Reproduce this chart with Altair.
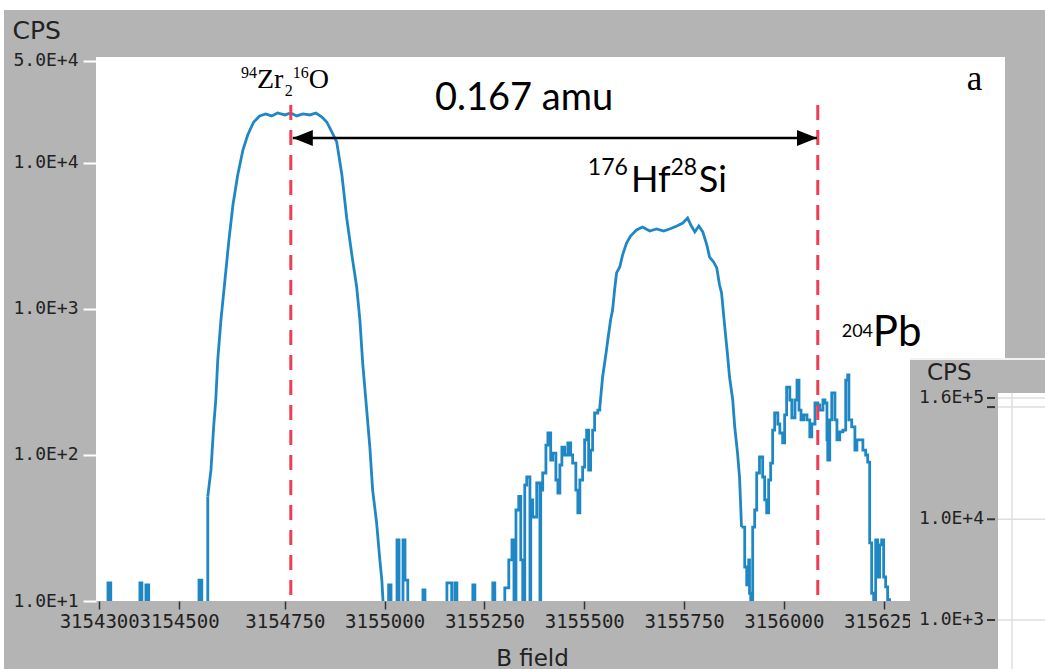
import altair as alt
import pandas as pd

# ---------------- data ----------------
b_field = [
    3154280, 3154307, 3154314, 3154387, 3154392, 3154402, 3154409, 3154535, 3154542,
    3154557, 3154565, 3154572, 3154577, 3154582, 3154590, 3154600, 3154610, 3154620,
    3154632, 3154645, 3154657, 3154672, 3154687, 3154702, 3154717, 3154732, 3154750,
    3154765, 3154780, 3154795, 3154813, 3154828, 3154843, 3154855, 3154868, 3154880,
    3154893, 3154905, 3154918, 3154930, 3154938, 3154945, 3154953, 3154963, 3154970,
    3154980, 3154988, 3154993, 3154998, 3155010, 3155016, 3155031, 3155036, 3155046,
    3155051, 3155058, 3155096, 3155101, 3155156, 3155168, 3155176, 3155181, 3155221,
    3155226, 3155271, 3155276, 3155301, 3155311, 3155319, 3155324, 3155329, 3155336,
    3155341, 3155346, 3155351, 3155356, 3155364, 3155366, 3155371, 3155381, 3155389,
    3155391, 3155396, 3155404, 3155409, 3155416, 3155421, 3155429, 3155434, 3155439,
    3155444, 3155451, 3155459, 3155466, 3155471, 3155479, 3155484, 3155489, 3155496,
    3155501, 3155506, 3155511, 3155516, 3155521, 3155526, 3155534, 3155539, 3155546,
    3155554, 3155559, 3155566, 3155571, 3155576, 3155581, 3155589, 3155596, 3155606,
    3155616, 3155631, 3155646, 3155664, 3155681, 3155699, 3155714, 3155732, 3155747,
    3155759, 3155767, 3155777, 3155787, 3155797, 3155807, 3155814, 3155824, 3155832,
    3155839, 3155844, 3155852, 3155859, 3155864, 3155872, 3155877, 3155884, 3155889,
    3155894, 3155902, 3155907, 3155912, 3155914, 3155917, 3155922, 3155927, 3155932,
    3155939, 3155947, 3155952, 3155957, 3155962, 3155967, 3155972, 3155977, 3155985,
    3155990, 3155997, 3156002, 3156007, 3156015, 3156020, 3156028, 3156033, 3156038,
    3156043, 3156050, 3156058, 3156065, 3156070, 3156078, 3156085, 3156090, 3156098,
    3156103, 3156108, 3156110, 3156115, 3156120, 3156128, 3156133, 3156140, 3156148,
    3156155, 3156160, 3156163, 3156170, 3156178, 3156183, 3156190, 3156198, 3156205,
    3156210, 3156215, 3156220, 3156225, 3156230, 3156235, 3156240, 3156245, 3156250,
    3156255, 3156260, 3156265,
]
cps = [
    8, 13.3, 8, 13.3, 8, 12.9, 8, 13.9, 8,
    52, 79, 160, 238, 448, 841, 1580, 2970, 5150,
    8280, 12270, 15550, 19100, 21000, 21680, 21000, 21990, 21330,
    21990, 21000, 21680, 21330, 21990, 20660, 19100, 16300, 13930,
    8280, 4200, 2340, 1415, 841, 427, 238, 113, 57.5,
    34.2, 19.1, 13.9, 8, 12.9, 8, 26.2, 8, 26.2,
    13.9, 8, 11.9, 8, 13.3, 8, 13.3, 8, 12.9,
    8, 13.3, 8, 12.3, 19.1, 26.2, 8, 42, 52,
    19.1, 8, 62.3, 70.7, 8, 49.2, 37.6, 64.3, 8,
    57.5, 75.3, 117, 141.5, 92.4, 103, 67.4, 54.9, 85.4,
    113, 100, 121, 100, 88.1, 57.5, 40.1, 67.4, 82.7,
    127, 148, 78.9, 108, 148, 194, 203, 213, 342,
    484, 613, 841, 984, 1349, 1765, 1940, 2340, 2830,
    3160, 3475, 3645, 3420, 3530, 3420, 3530, 3700, 3880,
    4200, 3760, 3370, 3700, 3370, 2745, 2270, 2100, 1910,
    1460, 1288, 753, 484, 342, 238, 155.5, 103, 70.7,
    32.1, 17.1, 12.9, 19.1, 11.3, 8, 32.1, 42, 75.3,
    96.9, 70.7, 49.2, 40.1, 67.4, 88.1, 148, 194, 163,
    141.5, 121, 188, 292, 238, 180, 238, 326, 203,
    174, 188, 174, 133, 163, 227, 220, 203, 238,
    227, 127, 92.4, 174, 266, 174, 127, 144, 148,
    326, 353, 174, 156, 108, 127, 127, 108, 100,
    89.5, 25, 11.3, 8, 26.2, 14.6, 24.2, 26.2, 14.6,
    12.5, 10.2, 8,
]
# the trace is noisy/stepped in some stretches and smooth on the big peak flanks
segment_bounds = [3154280, 3154557, 3154998, 3155539, 3155894, 3156265]
segment_modes = ["step", "smooth", "step", "smooth", "step"]

peak_lines_x = [3154765, 3156085]
peak_lines_top = 25000
arrow_x = [3154770, 3156083]
arrow_y = 14830

x_ticks = [3154285, 3154485, 3154750, 3155000, 3155250, 3155500, 3155750, 3156000, 3156250]
x_tick_labels = ["3154300", "3154500", "3154750", "3155000", "3155250",
                 "3155500", "3155750", "3156000", "3156250"]
y_ticks = [10, 100, 1000, 10000, 50000]
y_tick_labels = ["1.0E+1", "1.0E+2", "1.0E+3", "1.0E+4", "5.0E+4"]

# annotations: text, B position, CPS baseline, font group, font size
ann_text = ["94", "Zr", "2", "16", "O", "a",
            "0.167 amu", "176", "Hf", "28", "Si", "204", "Pb"]
ann_b = [3154640, 3154680, 3154750, 3154770, 3154810, 3156458,
         3155126, 3155509, 3155617, 3155716, 3155787, 3156145, 3156223]
ann_cps = [38200, 32660, 28770, 38200, 32660, 31620,
           23070, 8280, 6325, 8280, 6325, 643, 558]
ann_group = ["serif"] * 6 + ["sans"] * 7
ann_size = [16, 28, 16, 16, 28, 35,
            38, 23, 36, 23, 36, 18, 42]

# fragment of a second panel (bottom right)
inset_ticks = [160000, 130000, 10000, 1000]
inset_labels = ["1.6E+5", "", "1.0E+4", "1.0E+3"]

GRAY = "#b4b4b4"
BLUE = "#1f88c4"
RED = "#ee3d55"
INK = "#222222"


def label_expr(vals, labels):
    expr = "datum.label"
    for v, l in zip(reversed(vals), reversed(labels)):
        expr = f"datum.value == {v} ? '{l}' : ({expr})"
    return expr


xscale = alt.Scale(domain=[3154277, 3156554], nice=False, zero=False)
yscale = alt.Scale(type="log", domain=[10, 53200], nice=False)

rows = []
for k, mode in enumerate(segment_modes):
    lo, hi = segment_bounds[k], segment_bounds[k + 1]
    for b, c in zip(b_field, cps):
        if lo <= b <= hi:
            rows.append({"B": b, "CPS": c, "seg": k, "mode": mode})
trace_df = pd.DataFrame(rows)

x_axis = alt.Axis(
    values=x_ticks, labelExpr=label_expr(x_ticks, x_tick_labels),
    title="B field", domain=False, grid=False,
    tickColor="#333333", tickSize=8, tickWidth=1.5,
    labelFont="DejaVu Sans Mono", labelFontSize=19, labelColor=INK,
    labelPadding=3, labelOverlap=False, labelFlush=False,
    titleFont="DejaVu Sans", titleFontSize=23, titleFontWeight="normal",
    titleColor=INK, titleX=436, titleY=64, titleAlign="center",
    titleBaseline="alphabetic", zindex=0,
)
y_axis = alt.Axis(
    values=y_ticks, labelExpr=label_expr(y_ticks, y_tick_labels),
    title="CPS", titleAngle=0, titleAlign="left", titleBaseline="alphabetic",
    titleX=-84, titleY=-19, titleFont="DejaVu Sans", titleFontSize=25,
    titleFontWeight="normal", titleColor=INK,
    domain=False, grid=False, tickColor="white", tickSize=13, tickWidth=2,
    labelFont="DejaVu Sans Mono", labelFontSize=18, labelColor=INK,
    labelPadding=5, zindex=0,
)

trace_step = alt.Chart(trace_df).transform_filter(
    alt.datum.mode == "step"
).mark_line(
    interpolate="step-after", color=BLUE, strokeWidth=2.8, clip=True
).encode(
    x=alt.X("B:Q", scale=xscale, axis=x_axis),
    y=alt.Y("CPS:Q", scale=yscale, axis=y_axis),
    detail="seg:N",
)
trace_smooth = alt.Chart(trace_df).transform_filter(
    alt.datum.mode == "smooth"
).mark_line(
    interpolate="linear", color=BLUE, strokeWidth=2.8, clip=True
).encode(
    x=alt.X("B:Q", scale=xscale),
    y=alt.Y("CPS:Q", scale=yscale),
    detail="seg:N",
)

rules_df = pd.DataFrame({"B": peak_lines_x, "top": [peak_lines_top] * 2, "bot": [8, 8]})
red_rules = alt.Chart(rules_df).mark_rule(
    color=RED, strokeWidth=3, strokeDash=[15, 10], clip=True
).encode(
    x=alt.X("B:Q", scale=xscale),
    y=alt.Y("top:Q", scale=yscale),
    y2="bot:Q",
)

arrow_df = pd.DataFrame({"B": [arrow_x[0]], "B2": [arrow_x[1]], "CPS": [arrow_y]})
arrow_line = alt.Chart(arrow_df).mark_rule(color="black", strokeWidth=2.5).encode(
    x=alt.X("B:Q", scale=xscale), x2="B2:Q", y=alt.Y("CPS:Q", scale=yscale)
)
head_l = alt.Chart(pd.DataFrame({"B": [arrow_x[0]], "CPS": [arrow_y]})).mark_point(
    shape="M0,0L2,-0.8L2,0.8Z", filled=True, color="black", size=400, opacity=1
).encode(x=alt.X("B:Q", scale=xscale), y=alt.Y("CPS:Q", scale=yscale))
head_r = alt.Chart(pd.DataFrame({"B": [arrow_x[1]], "CPS": [arrow_y]})).mark_point(
    shape="M0,0L-2,-0.8L-2,0.8Z", filled=True, color="black", size=400, opacity=1
).encode(x=alt.X("B:Q", scale=xscale), y=alt.Y("CPS:Q", scale=yscale))

ann_df = pd.DataFrame({"t": ann_text, "B": ann_b, "CPS": ann_cps,
                       "g": ann_group, "s": ann_size})


def ann_layer(group, font):
    return alt.Chart(ann_df[ann_df["g"] == group]).mark_text(
        font=font, align="left", baseline="alphabetic", color="black"
    ).encode(
        x=alt.X("B:Q", scale=xscale),
        y=alt.Y("CPS:Q", scale=yscale),
        text="t:N",
        size=alt.Size("s:Q", scale=None, legend=None),
    )


serif_text = ann_layer("serif", "Liberation Serif")
sans_text = ann_layer("sans", "Lato")

one = pd.DataFrame({"k": [0]})
top_strip = alt.Chart(one).mark_rect(color="white").encode(
    x=alt.value(-96), x2=alt.value(949), y=alt.value(-57), y2=alt.value(-47))
left_strip = alt.Chart(one).mark_rect(color="white").encode(
    x=alt.value(-96), x2=alt.value(-92), y=alt.value(-57), y2=alt.value(612))

main = alt.layer(top_strip, left_strip, trace_step, trace_smooth, red_rules,
                 arrow_line, head_l, head_r, serif_text, sans_text)

# ---- inset fragment ----
inset_df = pd.DataFrame({"v": inset_ticks, "lab": inset_labels})
iscale = alt.Scale(type="log", domain=[1000, 160000], range=[563, 341], nice=False)
inset_bg = alt.Chart(one).mark_rect(color=GRAY).encode(
    x=alt.value(814), x2=alt.value(949), y=alt.value(302), y2=alt.value(612))
inset_edge = alt.Chart(one).mark_rule(color="#f2f2f2", strokeWidth=2).encode(
    x=alt.value(814), x2=alt.value(949), y=alt.value(302))
inset_white = alt.Chart(one).mark_rect(color="white").encode(
    x=alt.value(902), x2=alt.value(949), y=alt.value(336), y2=alt.value(612))
inset_vgrid = alt.Chart(one).mark_rule(color="#dedede", strokeWidth=1.5).encode(
    x=alt.value(916), y=alt.value(336), y2=alt.value(612))
inset_grid = alt.Chart(inset_df).mark_rule(color="#dedede", strokeWidth=1.5).encode(
    x=alt.value(902), x2=alt.value(949),
    y=alt.Y("v:Q", scale=iscale, axis=None))
inset_tick = alt.Chart(inset_df).mark_rule(color="#333333", strokeWidth=2).encode(
    x=alt.value(891), x2=alt.value(899),
    y=alt.Y("v:Q", scale=iscale, axis=None))
inset_lab = alt.Chart(inset_df).mark_text(
    align="right", baseline="middle", font="DejaVu Sans Mono", fontSize=18, color=INK
).encode(x=alt.value(888), y=alt.Y("v:Q", scale=iscale, axis=None), text="lab:N")
inset_title = alt.Chart(one).mark_text(
    align="left", baseline="alphabetic", font="DejaVu Sans", fontSize=23, color=INK
).encode(x=alt.value(831), y=alt.value(323), text=alt.value("CPS"))

inset = alt.layer(inset_bg, inset_edge, inset_white, inset_vgrid, inset_grid,
                  inset_tick, inset_lab, inset_title)

chart = alt.layer(main, inset).resolve_scale(y="independent").properties(
    width=909, height=544,
    autosize=alt.AutoSizeParams(type="none"),
    padding={"left": 96, "top": 57, "right": 40, "bottom": 68},
    background=GRAY,
).configure_view(fill="white", strokeWidth=0)

chart.save("out.html", embed_options={"renderer": "svg", "actions": False})
